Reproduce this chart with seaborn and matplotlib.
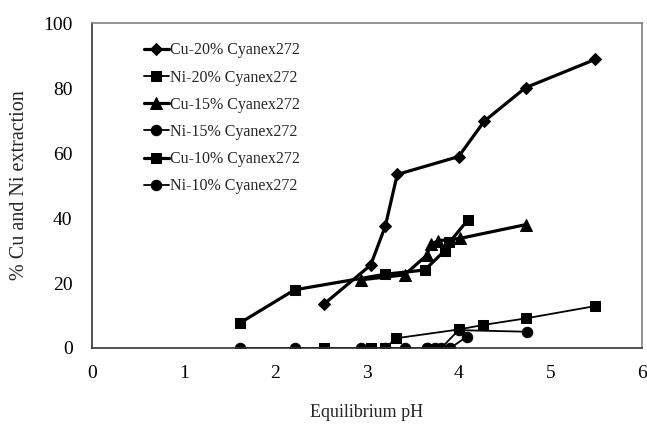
import matplotlib
matplotlib.use('Agg')
import matplotlib.pyplot as plt
import seaborn as sns
import pandas as pd

# ── Data ────────────────────────────────────────────────────────────────────
cu20_ph = [2.53, 3.04, 3.20, 3.33, 4.00, 4.28, 4.73, 5.49]
cu20_ext = [13.5, 25.5, 37.5, 53.4, 58.9, 69.8, 80.1, 88.8]

ni20_ph = [2.53, 3.04, 3.20, 3.32, 4.00, 4.27, 4.73, 5.49]
ni20_ext = [0.0, 0.0, 0.0, 3.0, 5.7, 7.1, 9.1, 12.9]

cu15_ph = [2.94, 3.41, 3.65, 3.70, 3.78, 4.01, 4.74]
cu15_ext = [21.0, 22.5, 28.5, 32.0, 33.0, 33.7, 38.0]

ni15_ph = [2.93, 3.41, 3.65, 3.74, 3.81, 4.00, 4.75]
ni15_ext = [0.0, 0.0, 0.0, 0.0, 0.0, 5.5, 5.0]

cu10_ph = [1.62, 2.21, 3.20, 3.63, 3.85, 3.90, 4.10]
cu10_ext = [7.8, 17.9, 22.7, 24.0, 30.0, 32.5, 39.4]

ni10_ph = [1.62, 2.21, 3.20, 3.65, 3.91, 4.09]
ni10_ext = [0.0, 0.0, 0.0, 0.0, 0.0, 3.5]

labels = ['Cu-20% Cyanex272', 'Ni-20% Cyanex272', 'Cu-15% Cyanex272',
          'Ni-15% Cyanex272', 'Cu-10% Cyanex272', 'Ni-10% Cyanex272']
series = [(cu20_ph, cu20_ext), (ni20_ph, ni20_ext), (cu15_ph, cu15_ext),
          (ni15_ph, ni15_ext), (cu10_ph, cu10_ext), (ni10_ph, ni10_ext)]

# style per series: marker, marker size, line width
styles = [('D', 6, 2.3), ('s', 7.5, 1.3), ('^', 8, 2.3),
          ('o', 7.5, 1.3), ('s', 7, 2.3), ('o', 7.5, 1.3)]

# ── Plot ───────────────────────────────────────────────────────────────────
sns.set_style('white')
plt.rcParams['font.family'] = ['Liberation Serif', 'DejaVu Serif']

fig = plt.figure(figsize=(6.47, 4.30), dpi=100)
ax = fig.add_axes([0.1422, 0.1907, 0.850, 0.7558])

for (xs, ys), lab, (mk, ms, lw) in zip(series, labels, styles):
    df = pd.DataFrame({'pH': xs, 'ext': ys})
    sns.lineplot(data=df, x='pH', y='ext', ax=ax, sort=False, estimator=None,
                 color='black', marker=mk, markersize=ms, linewidth=lw,
                 markeredgecolor='black', markerfacecolor='black', label=lab)

ax.set_xlim(0, 6)
ax.set_ylim(0, 100)
ax.set_xticks(range(0, 7))
ax.set_yticks(range(0, 101, 20))
ax.tick_params(direction='in', length=4, width=1, labelsize=14,
               colors='black')
ax.tick_params(axis='y', pad=14)
ax.tick_params(axis='x', pad=12)
ax.set_xlabel('Equilibrium pH', fontsize=13, labelpad=16)
ax.set_ylabel('% Cu and Ni extraction', fontsize=14.5, labelpad=10)

for s in ['left', 'bottom']:
    ax.spines[s].set_color('#333333')
    ax.spines[s].set_linewidth(1.2)
for s in ['top', 'right']:
    ax.spines[s].set_color('#808080')
    ax.spines[s].set_linewidth(1.2)

ax.legend(loc='upper left', bbox_to_anchor=(0.083, 0.96), frameon=False,
          fontsize=11.5, handlelength=1.55, handletextpad=0.05,
          labelspacing=0.7, borderaxespad=0)

fig.savefig('out.png', dpi=100)
plt.close(fig)
